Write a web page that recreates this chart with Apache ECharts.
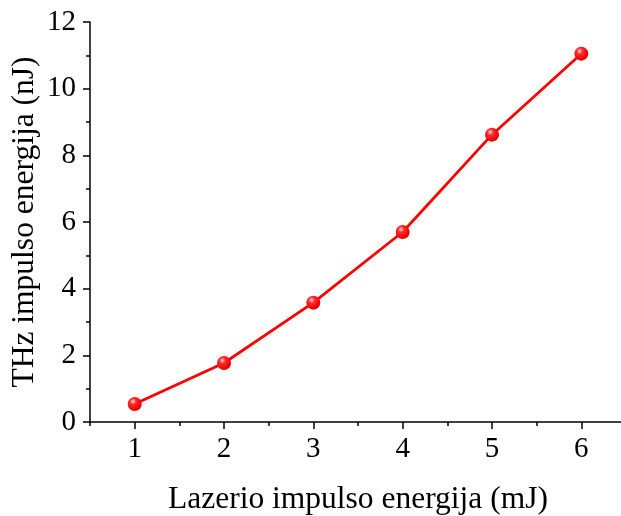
<!DOCTYPE html>
<html>
<head>
<meta charset="utf-8">
<style>
  html, body { margin: 0; padding: 0; background: #fff; }
  #chart { width: 621px; height: 516px; }
</style>
<script src="https://cdn.jsdelivr.net/npm/echarts@6/dist/echarts.min.js"></script>
</head>
<body>
<div id="chart"></div>
<script>
// Laser pulse energy (mJ) vs. THz pulse energy (nJ)
const laserEnergy = [1, 2, 3, 4, 5, 6];
const thzEnergy = [0.54, 1.77, 3.58, 5.7, 8.62, 11.05];

const xMajorTicks = [1, 2, 3, 4, 5, 6];
const xMinorTicks = [0.5, 1.5, 2.5, 3.5, 4.5, 5.5, 6.5];

const xTitle = 'Lazerio impulso energija (mJ)';
const yTitle = 'THz impulso energija (nJ)';

const serif = 'Liberation Serif';

const chart = echarts.init(document.getElementById('chart'));

const ballColor = new echarts.graphic.RadialGradient(0.38, 0.32, 0.75, [
  { offset: 0, color: '#ffd9d9' },
  { offset: 0.3, color: '#ff2a2a' },
  { offset: 0.8, color: '#f00000' },
  { offset: 1, color: '#c80000' }
]);

chart.setOption({
  animation: false,
  backgroundColor: '#fff',
  grid: { left: 90, right: -5, top: 22, bottom: 94, containLabel: false, outerBoundsMode: 'none' },
  xAxis: [
    {
      type: 'value',
      min: 0.5,
      max: 6.5,
      name: xTitle,
      nameLocation: 'middle',
      nameGap: 62,
      nameTextStyle: { fontFamily: serif, fontSize: 31.5, color: '#000' },
      axisLine: { show: true, onZero: false, lineStyle: { color: '#000', width: 1.5 } },
      axisTick: { show: true, inside: false, length: 7, customValues: xMajorTicks, lineStyle: { color: '#000', width: 1.5 } },
      axisLabel: { show: true, customValues: xMajorTicks, margin: 13, fontFamily: serif, fontSize: 29, color: '#000' },
      splitLine: { show: false }
    },
    {
      type: 'value',
      min: 0.5,
      max: 6.5,
      position: 'bottom',
      axisLine: { show: false },
      axisTick: { show: true, inside: false, length: 4, customValues: xMinorTicks, lineStyle: { color: '#000', width: 1.5 } },
      axisLabel: { show: false },
      splitLine: { show: false }
    }
  ],
  yAxis: {
    type: 'value',
    min: 0,
    max: 12,
    interval: 2,
    name: yTitle,
    nameLocation: 'middle',
    nameGap: 49,
    nameMoveOverlap: false,
    nameTextStyle: { fontFamily: serif, fontSize: 31.5, color: '#000' },
    axisLine: { show: true, onZero: false, lineStyle: { color: '#000', width: 1.5 } },
    axisTick: { show: true, inside: false, length: 7, lineStyle: { color: '#000', width: 1.5 } },
    minorTick: { show: true, splitNumber: 2, length: 4, lineStyle: { color: '#000', width: 1.5 } },
    axisLabel: { margin: 14, fontFamily: serif, fontSize: 29, color: '#000' },
    splitLine: { show: false }
  },
  series: [
    {
      type: 'line',
      xAxisIndex: 0,
      data: laserEnergy.map((x, i) => [x, thzEnergy[i]]),
      symbol: 'circle',
      symbolSize: 14,
      lineStyle: { color: '#ff0000', width: 2.8 },
      itemStyle: { color: ballColor, borderWidth: 0 }
    }
  ]
});
</script>
</body>
</html>
